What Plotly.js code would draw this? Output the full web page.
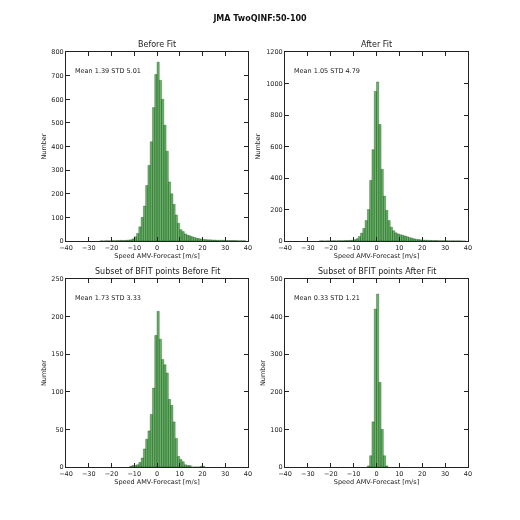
<!DOCTYPE html>
<html><head><meta charset="utf-8">
<script src="https://cdn.plot.ly/plotly-3.0.1.min.js"></script>
<style>html,body{margin:0;padding:0;background:#fff}#chart{width:520px;height:520px}#chart .main-svg{will-change:transform}</style>
</head><body><div id="chart"></div>
<script>
// Bin left edges (1 m/s bins)
const binsAll = [-25,-24,-23,-22,-21,-20,-19,-18,-17,-16,-15,-14,-13,-12,-11,-10,-9,-8,-7,-6,-5,-4,-3,-2,-1,0,1,2,3,4,5,6,7,8,9,10,11,12,13,14,15,16,17,18,19,20,21,22,23,24,25,26,27,28,29,30,31,32,33,34,35,36,37,38];
const beforeFitCounts = [1,0,1,1,1,2,1,2,2,3,2,3,4,5,9,18,32,60,100,148,235,320,420,565,705,757,680,600,490,380,250,200,155,110,75,48,40,30,25,22,18,15,12,10,8,7,6,5,5,4,4,3,3,3,3,2,2,2,2,2,1,1,1,1];
const afterFitCounts = [1,1,0,1,1,1,2,1,2,2,2,3,3,4,5,8,14,28,50,80,130,200,385,580,950,1010,740,455,285,195,130,88,65,52,45,40,36,32,27,22,18,14,11,9,7,6,5,4,4,3,3,3,2,2,2,2,1,1,1,1,1,1,0,0];
const binsSubsetBefore = [-12,-11,-10,-9,-8,-7,-6,-5,-4,-3,-2,-1,0,1,2,3,4,5,6,7,8,9,10,11,12,13,14,15,16,17,18,19,20];
const subsetBeforeCounts = [1,2,2,3,6,12,24,37,48,70,105,175,207,170,143,136,125,90,82,60,38,14,10,7,3,2,2,0,0,0,0,1,1];
const binsSubsetAfter = [-4,-3,-2,-1,0,1,2,3,4];
const subsetAfterCounts = [3,30,120,420,460,225,100,30,3];

const panelTitles = ["Before Fit","After Fit","Subset of BFIT points Before Fit","Subset of BFIT points After Fit"];
const statTexts = ["Mean 1.39 STD 5.01","Mean 1.05 STD 4.79","Mean 1.73 STD 3.33","Mean 0.33 STD 1.21"];
const yMax = [800,1200,250,500];
const yStep = [100,200,50,100];
const xTicks = [-40,-30,-20,-10,0,10,20,30,40];
const xLabel = "Speed AMV-Forecast [m/s]";
const yLabel = "Number";
const mainTitle = "JMA TwoQINF:50-100";

const seriesBins = [binsAll, binsAll, binsSubsetBefore, binsSubsetAfter];
const seriesCounts = [beforeFitCounts, afterFitCounts, subsetBeforeCounts, subsetAfterCounts];

const W = 520, H = 520;
const xDomains = [[66/W,248/W],[285/W,468/W],[66/W,248/W],[285/W,468/W]];
const yDomains = [[1-241/H,1-52/H],[1-241/H,1-52/H],[1-467/H,1-279/H],[1-467/H,1-279/H]];

const FONT = "DejaVu Sans, Liberation Sans, sans-serif";
const TXT = "#222";

const data = [];
const layout = {
  width: W, height: H,
  margin: {l:0,r:0,t:0,b:0},
  paper_bgcolor: "#fff", plot_bgcolor: "#fff",
  showlegend: false, bargap: 0,
  font: {family: FONT, color: TXT},
  title: {text: "<b>" + mainTitle + "</b>", x: 0.5, xanchor: "center", y: 1-18/H, yanchor: "middle", font: {size: 8, family: FONT, color: "#111"}},
  annotations: []
};

for (let i = 0; i < 4; i++) {
  const s = i === 0 ? "" : String(i+1);
  data.push({
    type: "bar", x: seriesBins[i], y: seriesCounts[i], width: 1, offset: 0,
    xaxis: "x" + s, yaxis: "y" + s,
    marker: {color: "rgba(0,128,0,0.6)", line: {color: "rgba(0,40,0,0.55)", width: 0.5}},
    hoverinfo: "x+y"
  });
  const yt = [];
  for (let v = 0; v <= yMax[i]; v += yStep[i]) yt.push(v);
  layout["xaxis" + s] = {
    domain: xDomains[i], anchor: "y" + s, range: [-40, 40], tickvals: xTicks,
    ticks: "inside", ticklen: 4, tickcolor: "#222", mirror: "ticks", showline: true, linecolor: "#222", linewidth: 1,
    showgrid: false, zeroline: false, tickfont: {size: 6.5, color: TXT, family: FONT},
    title: {text: xLabel, font: {size: 6.5, color: TXT, family: FONT}, standoff: 1}
  };
  layout["yaxis" + s] = {
    domain: yDomains[i], anchor: "x" + s, range: [0, yMax[i]], tickvals: yt,
    ticks: "inside", ticklen: 4, tickcolor: "#222", mirror: "ticks", showline: true, linecolor: "#222", linewidth: 1,
    showgrid: false, zeroline: false, tickfont: {size: 6.5, color: TXT, family: FONT},
    title: {text: yLabel, font: {size: 6.5, color: TXT, family: FONT}, standoff: 4}
  };
  layout.annotations.push({
    text: panelTitles[i], xref: "x" + s + " domain", yref: "y" + s + " domain",
    x: 0.5, y: 1, xanchor: "center", yanchor: "bottom", yshift: 1, showarrow: false,
    font: {size: 8, color: TXT, family: FONT}
  });
  layout.annotations.push({
    text: statTexts[i], xref: "x" + s + " domain", yref: "y" + s + " domain",
    x: 0.04, y: 0.9, xanchor: "left", yanchor: "middle", showarrow: false,
    font: {size: 6.5, color: TXT, family: FONT}
  });
}

Plotly.newPlot("chart", data, layout, {displayModeBar: false, staticPlot: true});
</script>
</body></html>
